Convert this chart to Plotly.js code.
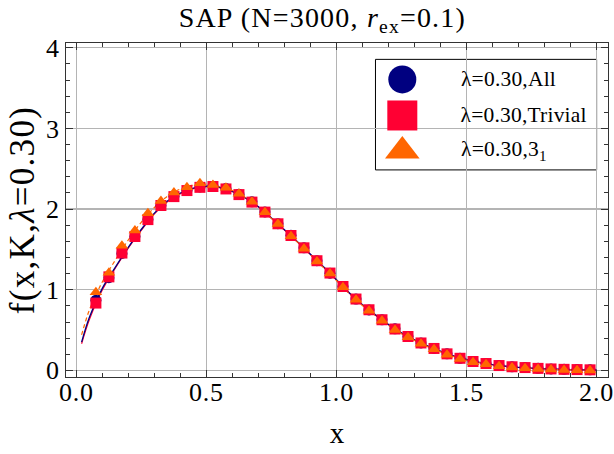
<!DOCTYPE html>
<html><head><meta charset="utf-8">
<script src="https://cdn.plot.ly/plotly-3.0.1.min.js"></script>
<style>
html,body{margin:0;padding:0;background:#fff}
#chart{width:614px;height:454px}
#chart .gtitle{letter-spacing:1.2px}
#chart .g-ytitle text{letter-spacing:1.3px}
#chart .xtick text,#chart .ytick text{letter-spacing:0.8px}
#chart .annotation-text{letter-spacing:0.2px}
</style>
</head><body><div id="chart"></div>
<script>
// ---- data ----
const xPts = [0.075,0.125,0.175,0.225,0.275,0.325,0.375,0.425,0.475,0.525,0.575,0.625,0.675,0.725,0.775,0.825,0.875,0.925,0.975,1.025,1.075,1.125,1.175,1.225,1.275,1.325,1.375,1.425,1.475,1.525,1.575,1.625,1.675,1.725,1.775,1.825,1.875,1.925,1.975];
const allVals = [0.87,1.15,1.45,1.66,1.87,2.045,2.16,2.235,2.275,2.285,2.255,2.185,2.09,1.965,1.82,1.675,1.52,1.36,1.205,1.04,0.885,0.75,0.628,0.515,0.42,0.34,0.272,0.205,0.15,0.11,0.085,0.06,0.045,0.035,0.025,0.018,0.013,0.01,0.007];
const trivialVals = [0.835,1.16,1.455,1.66,1.87,2.045,2.155,2.23,2.27,2.28,2.25,2.18,2.087,1.963,1.818,1.673,1.52,1.36,1.207,1.04,0.885,0.752,0.628,0.513,0.42,0.34,0.272,0.205,0.15,0.11,0.085,0.06,0.045,0.035,0.025,0.018,0.013,0.01,0.007];
const knotVals = [0.97,1.21,1.545,1.735,1.95,2.10,2.205,2.27,2.32,2.30,2.265,2.19,2.09,1.96,1.815,1.665,1.51,1.35,1.2,1.03,0.875,0.74,0.615,0.5,0.41,0.33,0.262,0.195,0.14,0.1,0.075,0.05,0.035,0.025,0.018,0.01,0.005,0.002,0.0];

const xFit = [0.02,0.05,0.1,0.15,0.2,0.25,0.3,0.35,0.4,0.45,0.5,0.55,0.6,0.65,0.7,0.75,0.8,0.85,0.9,0.95,1.0,1.05,1.1,1.15,1.2,1.25,1.3,1.35,1.4,1.45,1.5,1.55,1.6,1.65,1.7,1.75,1.8,1.85,1.9,1.95,2.0];
const allFit = [0.35,0.66,1.02,1.28,1.53,1.75,1.95,2.1,2.2,2.26,2.285,2.27,2.22,2.14,2.03,1.89,1.745,1.595,1.44,1.285,1.125,0.96,0.815,0.69,0.57,0.465,0.38,0.305,0.24,0.18,0.135,0.1,0.072,0.052,0.038,0.028,0.02,0.014,0.01,0.007,0.005];
const trivialFit = [0.33,0.63,1.0,1.27,1.52,1.74,1.94,2.09,2.19,2.255,2.28,2.265,2.215,2.135,2.025,1.885,1.74,1.59,1.435,1.28,1.12,0.955,0.81,0.685,0.565,0.46,0.375,0.3,0.235,0.177,0.132,0.098,0.07,0.05,0.036,0.026,0.019,0.013,0.009,0.006,0.004];
const knotFit = [0.44,0.75,1.1,1.37,1.62,1.84,2.02,2.16,2.25,2.3,2.31,2.28,2.23,2.14,2.03,1.885,1.74,1.59,1.435,1.275,1.115,0.95,0.805,0.68,0.56,0.455,0.37,0.295,0.23,0.172,0.128,0.094,0.067,0.048,0.034,0.024,0.017,0.011,0.007,0.004,0.002];

const legendNames = ['λ=0.30,All','λ=0.30,Trivial','λ=0.30,3<sub>1</sub>'];
const colors = ['#000080','#FF0033','#FF6600'];
const symbols = ['circle','square','triangle-up'];

const FONT = 'Liberation Serif, Times New Roman, serif';

const traces = [
  {x:xFit, y:trivialFit, mode:'lines', line:{color:colors[1], width:1.2, shape:'spline'}, showlegend:false, hoverinfo:'skip'},
  {x:xFit, y:allFit, mode:'lines', line:{color:colors[0], width:1.3, shape:'spline'}, showlegend:false, hoverinfo:'skip'},
  {x:xFit, y:knotFit, mode:'lines', line:{color:colors[2], width:1.2, dash:'4px,3px', shape:'spline'}, showlegend:false, hoverinfo:'skip'},
  {x:xPts, y:allVals, mode:'markers', marker:{symbol:symbols[0], color:colors[0], size:11, opacity:1}, name:legendNames[0], showlegend:false},
  {x:xPts, y:trivialVals, mode:'markers', marker:{symbol:symbols[1], color:colors[1], size:11, opacity:1}, name:legendNames[1], showlegend:false},
  {x:xPts, y:knotVals, mode:'markers', marker:{symbol:symbols[2], color:colors[2], size:11, opacity:1}, name:legendNames[2], showlegend:false},
  // custom legend symbols on a hidden overlay axis (0..1 frame)
  {x:[0.6205,0.6205,0.6205], y:[0.891,0.783,0.677], xaxis:'x2', yaxis:'y2', mode:'markers',
   marker:{symbol:symbols, color:colors, size:[28,30,30], opacity:1, line:{width:0}}, showlegend:false, hoverinfo:'skip'}
];

const axisCommon = {
  showline:true, linecolor:'#333', linewidth:1, mirror:'allticks',
  ticks:'inside', ticklen:7, tickcolor:'#333', tickwidth:1,
  showgrid:true, gridcolor:'#b4b4b4', gridwidth:1.3, zeroline:false,
  tickfont:{family:FONT, size:26, color:'#000'},
  minor:{ticks:'inside', ticklen:4, tickcolor:'#333', showgrid:false}
};

const layout = {
  width:614, height:454,
  margin:{l:66, r:6, t:43, b:77},
  paper_bgcolor:'#fff', plot_bgcolor:'#fff',
  font:{family:FONT, color:'#000'},
  title:{text:'SAP (N=3000, <i>r</i><sub>ex</sub>=0.1)', font:{family:FONT, size:28, color:'#000'}, x:0.525, xanchor:'center', y:0.962, yanchor:'middle'},
  xaxis:Object.assign({}, axisCommon, {range:[-0.04,2.044], tickvals:[0,0.5,1,1.5,2], ticktext:['0.0','0.5','1.0','1.5','2.0'],
    ticklabelstandoff:-8,
    minor:Object.assign({}, axisCommon.minor, {dtick:0.1}),
    title:{text:'x', font:{family:FONT, size:29}, standoff:16}}),
  yaxis:Object.assign({}, axisCommon, {range:[-0.082,4.06], tickvals:[0,1,2,3,4],
    minor:Object.assign({}, axisCommon.minor, {dtick:0.2}),
    title:{text:'f(x,K,<i>λ</i>=0.30)', font:{family:FONT, size:35}, standoff:1}}),
  xaxis2:{overlaying:'x', range:[0,1], visible:false, fixedrange:true},
  yaxis2:{overlaying:'y', range:[0,1], visible:false, fixedrange:true},
  shapes:[{type:'rect', xref:'paper', yref:'paper', x0:0.571, x1:0.979, y0:0.620, y1:0.951, line:{color:'#000', width:1}, fillcolor:'#fff', layer:'below'}],
  annotations:[
    {xref:'paper', yref:'paper', x:0.727, y:0.891, xanchor:'left', yanchor:'middle', text:legendNames[0], showarrow:false, font:{family:FONT, size:21.5}},
    {xref:'paper', yref:'paper', x:0.727, y:0.783, xanchor:'left', yanchor:'middle', text:legendNames[1], showarrow:false, font:{family:FONT, size:21.5}},
    {xref:'paper', yref:'paper', x:0.727, y:0.677, xanchor:'left', yanchor:'middle', text:legendNames[2], showarrow:false, font:{family:FONT, size:21.5}}
  ],
  showlegend:false
};

Plotly.newPlot('chart', traces, layout, {staticPlot:true, displayModeBar:false});
</script></body></html>
